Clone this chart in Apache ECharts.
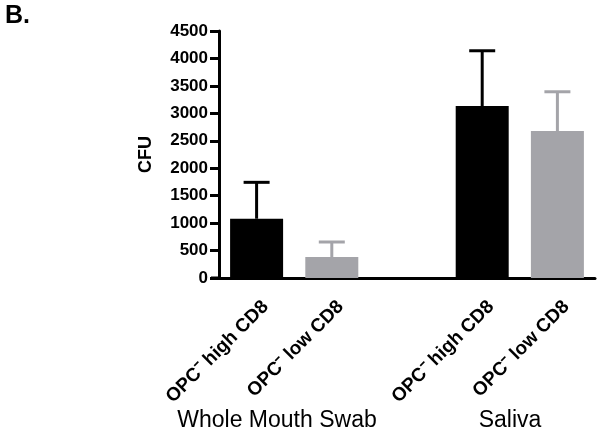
<!DOCTYPE html>
<html>
<head>
<meta charset="utf-8">
<script src="https://cdn.jsdelivr.net/npm/echarts@6/dist/echarts.min.js"></script>
<style>
  html, body { margin: 0; padding: 0; background: #fff; }
  #chart { width: 602px; height: 436px; }
</style>
</head>
<body>
<div id="chart"></div>
<script>
// 数据
var categories = ['OPC⁻ high CD8', 'OPC⁻ low CD8', '', 'OPC⁻ high CD8', 'OPC⁻ low CD8'];
var cfuMean = [1080, 383, null, 3133, 2678];
var cfuUpper = [1743, 656, null, 4140, 3393];
var barColors = ['#000000', '#a4a4a9', '#000000', '#000000', '#a4a4a9'];
var groupLabels = ['Whole Mouth Swab', 'Saliva'];
var yTicks = { min: 0, max: 4500, interval: 500 };

var chart = echarts.init(document.getElementById('chart'));
var font = 'Liberation Sans, Arial, sans-serif';

// 误差线数据
var errData = [];
for (var i = 0; i < cfuMean.length; i++) {
  if (cfuMean[i] != null) errData.push([i, cfuMean[i], cfuUpper[i]]);
}

var option = {
  animation: false,
  grid: { left: 219, right: 7, top: 31, bottom: 158 },
  xAxis: {
    type: 'category',
    data: categories,
    axisLine: { lineStyle: { color: '#000', width: 3 } },
    axisTick: { alignWithLabel: true, length: 9, lineStyle: { color: '#000', width: 3 } },
    axisLabel: {
      rotate: 45, interval: 0, margin: 17,
      verticalAlign: 'top', padding: [3, 0, 0, 0],
      color: '#000', fontWeight: 'bold', fontSize: 19, fontFamily: font
    }
  },
  yAxis: {
    type: 'value',
    min: yTicks.min, max: yTicks.max, interval: yTicks.interval,
    name: 'CFU',
    nameLocation: 'middle',
    nameGap: 64,
    nameRotate: 90,
    nameTextStyle: { color: '#000', fontWeight: 'bold', fontSize: 18, fontFamily: font },
    axisLine: { show: true, lineStyle: { color: '#000', width: 3 } },
    axisTick: { show: true, length: 9, lineStyle: { color: '#000', width: 3 } },
    splitLine: { show: false },
    axisLabel: {
      color: '#000', fontWeight: 'bold', fontSize: 17, fontFamily: font, margin: 11,
      formatter: function (v) { return String(v); }
    }
  },
  series: [
    {
      type: 'bar',
      barWidth: 53,
      data: cfuMean.map(function (v, i) {
        return v == null ? '-' : { value: v, itemStyle: { color: barColors[i] } };
      })
    },
    {
      type: 'custom',
      data: errData,
      z: 1,
      renderItem: function (params, api) {
        var idx = api.value(0);
        var p0 = api.coord([idx, api.value(1)]);
        var p1 = api.coord([idx, api.value(2)]);
        var c = barColors[idx];
        var half = 13;
        return {
          type: 'group',
          children: [
            { type: 'line', shape: { x1: p0[0], y1: p0[1], x2: p1[0], y2: p1[1] }, style: { stroke: c, lineWidth: 3 } },
            { type: 'line', shape: { x1: p1[0] - half, y1: p1[1], x2: p1[0] + half, y2: p1[1] }, style: { stroke: c, lineWidth: 3 } }
          ]
        };
      }
    }
  ],
  graphic: [
    { type: 'text', left: 5, top: 4, style: { text: 'B.', font: 'bold 25px ' + font, fill: '#000' } },
    { type: 'text', x: 277, y: 421, style: { text: groupLabels[0], font: '23px ' + font, fill: '#000', align: 'center', verticalAlign: 'middle' } },
    { type: 'text', x: 510, y: 421, style: { text: groupLabels[1], font: '23px ' + font, fill: '#000', align: 'center', verticalAlign: 'middle' } },
    // x轴左端延伸
    { type: 'line', shape: { x1: 211, y1: 278, x2: 220, y2: 278 }, style: { stroke: '#000', lineWidth: 3 } }
  ]
};
chart.setOption(option);
</script>
</body>
</html>
